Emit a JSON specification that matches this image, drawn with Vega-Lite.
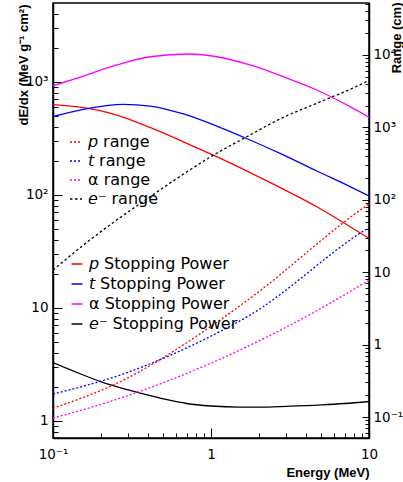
{
  "$schema": "https://vega.github.io/schema/vega-lite/v6.json",
  "width": 316,
  "height": 435,
  "autosize": "none",
  "padding": {"left": 53, "top": 3, "right": 34, "bottom": 44},
  "background": "white",
  "config": {
    "view": {"stroke": "black", "strokeWidth": 1.5},
    "font": "DejaVu Sans",
    "axis": {
      "domainColor": "black", "domainWidth": 1.5, "tickColor": "black", "tickWidth": 1,
      "grid": false, "labelColor": "black", "labelFont": "DejaVu Sans", "labelFontSize": 13.5,
      "titleFont": "Liberation Sans", "titleFontWeight": "bold", "titleFontSize": 13, "titleColor": "black",
      "labelOverlap": false, "labelFlush": false
    },
    "legend": {
      "orient": "none", "title": null, "labelFont": "DejaVu Sans", "labelFontSize": 16, "labelColor": "black",
      "symbolType": "stroke", "padding": 0, "labelOffset": 4, "labelLimit": 300
    }
  },
  "datasets": {
    "sp": [
      {"E": 0.1, "v": 628, "s": "𝘱 Stopping Power"},
      {"E": 0.156, "v": 589, "s": "𝘱 Stopping Power"},
      {"E": 0.253, "v": 507, "s": "𝘱 Stopping Power"},
      {"E": 0.411, "v": 394, "s": "𝘱 Stopping Power"},
      {"E": 0.668, "v": 294, "s": "𝘱 Stopping Power"},
      {"E": 1.086, "v": 217, "s": "𝘱 Stopping Power"},
      {"E": 1.766, "v": 157, "s": "𝘱 Stopping Power"},
      {"E": 2.87, "v": 112, "s": "𝘱 Stopping Power"},
      {"E": 4.67, "v": 78.3, "s": "𝘱 Stopping Power"},
      {"E": 7.59, "v": 52.1, "s": "𝘱 Stopping Power"},
      {"E": 10, "v": 41.1, "s": "𝘱 Stopping Power"},
      {"E": 0.1, "v": 492, "s": "𝘵 Stopping Power"},
      {"E": 0.156, "v": 570, "s": "𝘵 Stopping Power"},
      {"E": 0.279, "v": 631, "s": "𝘵 Stopping Power"},
      {"E": 0.411, "v": 609, "s": "𝘵 Stopping Power"},
      {"E": 0.668, "v": 518, "s": "𝘵 Stopping Power"},
      {"E": 1.086, "v": 405, "s": "𝘵 Stopping Power"},
      {"E": 1.766, "v": 305, "s": "𝘵 Stopping Power"},
      {"E": 2.87, "v": 225, "s": "𝘵 Stopping Power"},
      {"E": 4.67, "v": 162, "s": "𝘵 Stopping Power"},
      {"E": 7.59, "v": 118, "s": "𝘵 Stopping Power"},
      {"E": 10, "v": 97.4, "s": "𝘵 Stopping Power"},
      {"E": 0.1, "v": 920, "s": "α Stopping Power"},
      {"E": 0.156, "v": 1122, "s": "α Stopping Power"},
      {"E": 0.253, "v": 1406, "s": "α Stopping Power"},
      {"E": 0.411, "v": 1663, "s": "α Stopping Power"},
      {"E": 0.736, "v": 1758, "s": "α Stopping Power"},
      {"E": 1.086, "v": 1663, "s": "α Stopping Power"},
      {"E": 1.766, "v": 1406, "s": "α Stopping Power"},
      {"E": 2.87, "v": 1107, "s": "α Stopping Power"},
      {"E": 4.67, "v": 845, "s": "α Stopping Power"},
      {"E": 7.59, "v": 601, "s": "α Stopping Power"},
      {"E": 10, "v": 484, "s": "α Stopping Power"},
      {"E": 0.1, "v": 3.27, "s": "𝘦⁻ Stopping Power"},
      {"E": 0.15, "v": 2.59, "s": "𝘦⁻ Stopping Power"},
      {"E": 0.2, "v": 2.22, "s": "𝘦⁻ Stopping Power"},
      {"E": 0.3, "v": 1.87, "s": "𝘦⁻ Stopping Power"},
      {"E": 0.5, "v": 1.56, "s": "𝘦⁻ Stopping Power"},
      {"E": 0.7, "v": 1.42, "s": "𝘦⁻ Stopping Power"},
      {"E": 1, "v": 1.35, "s": "𝘦⁻ Stopping Power"},
      {"E": 1.5, "v": 1.32, "s": "𝘦⁻ Stopping Power"},
      {"E": 2, "v": 1.32, "s": "𝘦⁻ Stopping Power"},
      {"E": 3, "v": 1.34, "s": "𝘦⁻ Stopping Power"},
      {"E": 5, "v": 1.38, "s": "𝘦⁻ Stopping Power"},
      {"E": 7, "v": 1.42, "s": "𝘦⁻ Stopping Power"},
      {"E": 10, "v": 1.48, "s": "𝘦⁻ Stopping Power"}
    ],
    "rg": [
      {"E": 0.1, "r": 0.132, "s": "𝘱 range"},
      {"E": 0.266, "r": 0.307, "s": "𝘱 range"},
      {"E": 0.773, "r": 1.22, "s": "𝘱 range"},
      {"E": 1.766, "r": 4.36, "s": "𝘱 range"},
      {"E": 9.44, "r": 80.3, "s": "𝘱 range"},
      {"E": 10, "r": 87.5, "s": "𝘱 range"},
      {"E": 0.1, "r": 0.208, "s": "𝘵 range"},
      {"E": 0.266, "r": 0.380, "s": "𝘵 range"},
      {"E": 0.893, "r": 1.16, "s": "𝘵 range"},
      {"E": 1.766, "r": 2.56, "s": "𝘵 range"},
      {"E": 9.44, "r": 38.3, "s": "𝘵 range"},
      {"E": 10, "r": 41.4, "s": "𝘵 range"},
      {"E": 0.1, "r": 0.0969, "s": "α range"},
      {"E": 0.2, "r": 0.149, "s": "α range"},
      {"E": 0.3, "r": 0.199, "s": "α range"},
      {"E": 0.5, "r": 0.299, "s": "α range"},
      {"E": 1, "r": 0.555, "s": "α range"},
      {"E": 2, "r": 1.117, "s": "α range"},
      {"E": 3, "r": 1.746, "s": "α range"},
      {"E": 5, "r": 3.19, "s": "α range"},
      {"E": 10, "r": 7.77, "s": "α range"},
      {"E": 0.1, "r": 10.7, "s": "𝘦⁻ range"},
      {"E": 0.171, "r": 27.8, "s": "𝘦⁻ range"},
      {"E": 0.411, "r": 110, "s": "𝘦⁻ range"},
      {"E": 1.086, "r": 439, "s": "𝘦⁻ range"},
      {"E": 1.766, "r": 785, "s": "𝘦⁻ range"},
      {"E": 2.87, "r": 1378, "s": "𝘦⁻ range"},
      {"E": 4.67, "r": 2153, "s": "𝘦⁻ range"},
      {"E": 7.59, "r": 3359, "s": "𝘦⁻ range"},
      {"E": 10, "r": 4446, "s": "𝘦⁻ range"}
    ]
  },
  "layer": [
    {
      "data": {"name": "sp"},
      "mark": {"type": "line", "clip": true, "interpolate": "monotone"},
      "encoding": {
        "x": {
          "field": "E", "type": "quantitative",
          "scale": {"type": "log", "domain": [0.1, 10], "nice": false},
          "axis": {
            "values": [0.1, 0.2, 0.3, 0.4, 0.5, 0.6, 0.7, 0.8, 0.9, 1, 2, 3, 4, 5, 6, 7, 8, 9, 10],
            "labelExpr": "datum.value == 0.1 ? '10⁻¹' : datum.value == 1 ? '1' : datum.value == 10 ? '10' : ''",
            "tickSize": {"condition": {"test": "indexof([0.1, 1, 10], datum.value) >= 0", "value": -10}, "value": -5},
            "labelPadding": 19,
            "title": "Energy (MeV)", "titleX": 316, "titleY": 38.5, "titleAlign": "right", "titleBaseline": "alphabetic"
          }
        },
        "y": {
          "field": "v", "type": "quantitative",
          "scale": {"type": "log", "domain": [0.703, 4972], "nice": false},
          "axis": {
            "orient": "left",
            "values": [0.8, 0.9, 1, 2, 3, 4, 5, 6, 7, 8, 9, 10, 20, 30, 40, 50, 60, 70, 80, 90, 100, 200, 300, 400, 500, 600, 700, 800, 900, 1000, 2000, 3000, 4000],
            "labelExpr": "datum.value == 1 ? '1' : datum.value == 10 ? '10' : datum.value == 100 ? '10²' : datum.value == 1000 ? '10³' : ''",
            "tickSize": {"condition": {"test": "indexof([1, 10, 100, 1000], datum.value) >= 0", "value": -9}, "value": -5},
            "labelPadding": 14,
            "title": "dE/dx (MeV g⁻¹ cm²)", "titleAngle": 270, "titleAlign": "right", "titleBaseline": "alphabetic",
            "titleX": -26, "titleY": 1
          }
        },
        "color": {
          "field": "s", "type": "nominal",
          "scale": {"domain": ["𝘱 Stopping Power", "𝘵 Stopping Power", "α Stopping Power", "𝘦⁻ Stopping Power"], "range": ["#ff0000", "#0000ff", "#ff00ff", "#000000"]},
          "legend": {"legendX": 16, "legendY": 253, "symbolSize": 121, "symbolStrokeWidth": 1.5, "rowPadding": 4}
        },
        "strokeWidth": {
          "field": "s", "type": "nominal",
          "scale": {"domain": ["𝘱 Stopping Power", "𝘵 Stopping Power", "α Stopping Power", "𝘦⁻ Stopping Power"], "range": [1.3, 1.3, 1.3, 2]},
          "legend": null
        }
      }
    },
    {
      "data": {"name": "rg"},
      "mark": {"type": "line", "clip": true, "interpolate": "monotone"},
      "encoding": {
        "x": {"field": "E", "type": "quantitative"},
        "y": {
          "field": "r", "type": "quantitative",
          "scale": {"type": "log", "domain": [0.0513, 52260], "nice": false},
          "axis": {
            "orient": "right",
            "values": [0.06, 0.07, 0.08, 0.09, 0.1, 0.2, 0.3, 0.4, 0.5, 0.6, 0.7, 0.8, 0.9, 1, 2, 3, 4, 5, 6, 7, 8, 9, 10, 20, 30, 40, 50, 60, 70, 80, 90, 100, 200, 300, 400, 500, 600, 700, 800, 900, 1000, 2000, 3000, 4000, 5000, 6000, 7000, 8000, 9000, 10000, 20000, 30000, 40000, 50000],
            "labelExpr": "datum.value == 0.1 ? '10⁻¹' : datum.value == 1 ? '1' : datum.value == 10 ? '10' : datum.value == 100 ? '10²' : datum.value == 1000 ? '10³' : datum.value == 10000 ? '10⁴' : ''",
            "tickSize": {"condition": {"test": "indexof([0.1, 1, 10, 100, 1000, 10000], datum.value) >= 0", "value": -7}, "value": -4},
            "labelPadding": 11,
            "title": "Range (cm)", "titleAngle": 270, "titleAlign": "right", "titleBaseline": "alphabetic",
            "titleX": 31, "titleY": -1
          }
        },
        "stroke": {
          "field": "s", "type": "nominal",
          "scale": {"domain": ["𝘱 range", "𝘵 range", "α range", "𝘦⁻ range"], "range": ["#ff0000", "#0000ff", "#ff00ff", "#000000"]},
          "legend": {"legendX": 15, "legendY": 131, "symbolSize": 144, "symbolStrokeWidth": 1.3, "symbolDash": [2, 2], "rowPadding": 3}
        },
        "strokeWidth": {
          "field": "s", "type": "nominal",
          "scale": {"domain": ["𝘱 range", "𝘵 range", "α range", "𝘦⁻ range"], "range": [1.3, 1.3, 1.3, 2.5]},
          "legend": null
        },
        "strokeDash": {
          "field": "s", "type": "nominal",
          "scale": {"domain": ["𝘱 range", "𝘵 range", "α range", "𝘦⁻ range"], "range": [[2, 2], [2, 2], [2, 2], [2.5, 2.5]]},
          "legend": null
        }
      }
    }
  ],
  "resolve": {"scale": {"y": "independent"}}
}
